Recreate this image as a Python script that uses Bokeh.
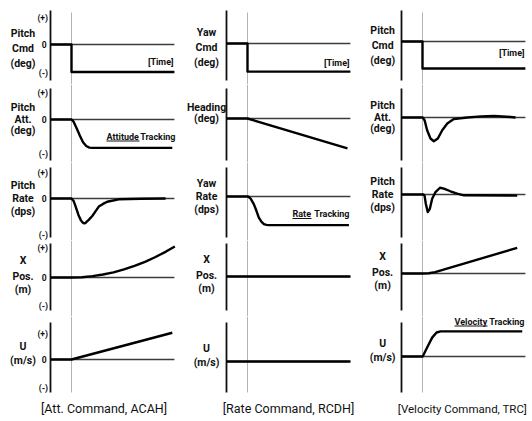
from bokeh.plotting import figure
from bokeh.layouts import gridplot
from bokeh.models import Range1d
from bokeh.core.properties import value
from bokeh.embed import file_html
from bokeh.resources import INLINE

# ---------------- data (time units: command applied at T_EVENT) ----------------
T_EVENT = 1.0
T_END = 5.9

# Attitude command (ACAH)
acah_cmd_t = [0, 1.0, 1.0, 5.9]
acah_cmd_y = [0, 0, -1.02, -1.02]
acah_att_t = [0, 1.0, 1.1, 1.25, 1.4, 1.55, 1.7, 1.85, 2.0, 5.8]
acah_att_y = [0, 0, -0.08, -0.33, -0.6, -0.84, -0.98, -1.04, -1.05, -1.05]
acah_rate_t = [0, 1.0, 1.1, 1.19, 1.33, 1.45, 1.52, 1.59, 1.66, 1.74, 1.82, 1.99, 2.15, 2.3, 2.5, 2.7, 3.25, 4.3, 5.48]
acah_rate_y = [0, 0, -0.09, -0.28, -0.61, -0.81, -0.88, -0.92, -0.91, -0.85, -0.79, -0.65, -0.47, -0.30, -0.2, -0.12, -0.03, -0.01, 0]
acah_x_t = [0, 1.0, 1.5, 2.0, 2.5, 3.0, 3.5, 4.0, 4.5, 5.0, 5.5, 5.92]
acah_x_y = [0, 0, 0.01, 0.05, 0.11, 0.19, 0.30, 0.43, 0.58, 0.76, 0.96, 1.15]
acah_u_t = [0, 1.0, 5.8]
acah_u_y = [0, 0, 0.99]

# Rate command (RCDH)
rcdh_cmd_t = [0, 1.0, 1.0, 5.9]
rcdh_cmd_y = [0, 0, -1.04, -1.04]
rcdh_head_t = [0, 1.0, 5.76]
rcdh_head_y = [0, 0, -1.11]
rcdh_rate_t = [0, 1.03, 1.15, 1.3, 1.42, 1.54, 1.66, 1.78, 1.9, 2.0, 5.83]
rcdh_rate_y = [0, 0, -0.08, -0.28, -0.52, -0.78, -0.93, -1.02, -1.05, -1.06, -1.06]
rcdh_x_t = [0, 5.9]
rcdh_x_y = [0, 0]
rcdh_u_t = [0, 5.9]
rcdh_u_y = [0, 0]

# Velocity command (TRC)
trc_cmd_t = [0, 1.0, 1.0, 5.9]
trc_cmd_y = [0, 0, -1.0, -1.0]
trc_att_t = [0, 1.01, 1.1, 1.22, 1.38, 1.54, 1.73, 1.94, 2.18, 2.49, 3.13, 3.8, 4.4, 5.0, 5.43]
trc_att_y = [0, 0, -0.1, -0.47, -0.78, -0.88, -0.78, -0.47, -0.22, -0.06, 0, 0.04, 0.06, 0.03, 0]
trc_rate_t = [0, 1.05, 1.1, 1.16, 1.25, 1.35, 1.46, 1.62, 1.83, 2.02, 2.33, 2.65, 2.97, 5.51]
trc_rate_y = [0, 0, -0.05, -0.35, -0.65, -0.53, -0.16, 0.09, 0.25, 0.22, 0.12, 0.03, -0.03, -0.04]
trc_x_t = [0, 0.99, 1.3, 1.6, 5.51]
trc_x_y = [0, 0, 0.01, 0.05, 0.95]
trc_u_t = [0, 1.01, 1.22, 1.46, 1.67, 1.86, 5.75]
trc_u_y = [0, 0, 0.33, 0.70, 0.89, 0.93, 0.93]

titles = ["[Att. Command, ACAH]", "[Rate Command, RCDH]", "[Velocity Command, TRC]"]
ylabels = [
    [["Pitch", "Cmd", "(deg)"], ["Yaw", "Cmd", "(deg)"], ["Pitch", "Cmd", "(deg)"]],
    [["Pitch", "Att.", "(deg)"], ["Heading", "(deg)"], ["Pitch", "Att.", "(deg)"]],
    [["Pitch", "Rate", "(dps)"], ["Yaw", "Rate", "(dps)"], ["Pitch", "Rate", "(dps)"]],
    [["X", "Pos.", "(m)"], ["X", "Pos.", "(m)"], ["X", "Pos.", "(m)"]],
    [["U", "(m/s)"], ["U", "(m/s)"], ["U", "(m/s)"]],
]
tick_labels = ["(+)", "0", "(-)"]
time_label = "[Time]"
tracking = {(1, 0): ("Attitude", "Tracking"), (2, 1): ("Rate", "Tracking"), (4, 2): ("Velocity", "Tracking")}

signals = [
    [(acah_cmd_t, acah_cmd_y), (rcdh_cmd_t, rcdh_cmd_y), (trc_cmd_t, trc_cmd_y)],
    [(acah_att_t, acah_att_y), (rcdh_head_t, rcdh_head_y), (trc_att_t, trc_att_y)],
    [(acah_rate_t, acah_rate_y), (rcdh_rate_t, rcdh_rate_y), (trc_rate_t, trc_rate_y)],
    [(acah_x_t, acah_x_y), (rcdh_x_t, rcdh_x_y), (trc_x_t, trc_x_y)],
    [(acah_u_t, acah_u_y), (rcdh_u_t, rcdh_u_y), (trc_u_t, trc_u_y)],
]

# ---------------- layout (pixel placement) ----------------
PX = 21.0   # pixels per time unit
PY = 27.0   # pixels per value unit
COL_W = [183, 173, 176]
AXIS_X = [50, 43, 45]                    # axis position inside each column
ROW_TOP = [0, 84, 162, 240, 316]
ROW_H = [84, 78, 78, 76, 104]
ZERO_PAGE = [[44, 43, 41], [119, 118, 117], [198, 196, 194], [277, 276, 273], [359, 361, 356]]
AXIS_SPAN = [(10, 80), (88, 160), (167, 237), (243, 310), (322, 392)]
PLUS_PAGE = [17, 92, 172, 247, 333]
MINUS_PAGE = [72, 153, 234, 305, 387]
LABEL_X = [-1.31, -0.95, -0.9]
LABEL_OFF = [                             # px above zero of each label line
    {3: [11, -4, -19]},
    {3: [12, 0, -11], 2: [11, 0]},
    {3: [13, 0, -13]},
    {3: [17, 1, -12]},
    {2: [13, -1]},
]
TIME_PAGE = [(173, 61), (349, 62), (524, 52)]
TRACK_PAGE = {(1, 0): (106, 136, 140.5, 175), (2, 1): (292, 213, 218, 349), (4, 2): (454, 321, 325.5, 524)}
UNDERLINE_W = {"Attitude": 33, "Rate": 19, "Velocity": 33}
TITLE_PAGE = [(103.5, 408, "12.5px"), (288, 408, "12.5px"), (462, 408, "11.5px")]
FONT = value("Roboto")
BLACK = "#111111"

rows = []
for r in range(5):
    row = []
    for c in range(3):
        w, h = COL_W[c], ROW_H[r]
        zp = ZERO_PAGE[r][c]
        z = zp - ROW_TOP[r]
        ax_page = sum(COL_W[:c]) + AXIS_X[c]

        def tx(px):
            return (px - ax_page) / PX

        def ty(py):
            return (zp - py) / PY

        p = figure(width=w, height=h,
                   x_range=Range1d(-AXIS_X[c] / PX, (w - AXIS_X[c]) / PX),
                   y_range=Range1d(-(h - z) / PY, z / PY),
                   x_axis_type=None, y_axis_type=None,
                   output_backend="svg", toolbar_location=None, min_border=0)
        p.outline_line_color = None
        p.grid.visible = False
        p.background_fill_color = "white"
        p.border_fill_color = "white"

        # command time marker (continuous through rows)
        top = ty(12) if r == 0 else p.y_range.end
        bot = ty(392) if r == 4 else p.y_range.start
        p.segment(x0=[T_EVENT], y0=[bot], x1=[T_EVENT], y1=[top], line_color="#b4b4b4", line_width=1)
        # zero line and vertical axis
        p.segment(x0=[0], y0=[0], x1=[T_END], y1=[0], line_color="#3c3c3c", line_width=1.3)
        a0, a1 = AXIS_SPAN[r]
        p.segment(x0=[0], y0=[ty(a1)], x1=[0], y1=[ty(a0)], line_color=BLACK, line_width=1.8)
        # signal
        t, y = signals[r][c]
        p.line(t, y, line_color="black", line_width=2.4, line_join="round")

        # y label
        lines = ylabels[r][c]
        ly = [v / PY for v in LABEL_OFF[r][len(lines)]]
        p.text(x=[LABEL_X[c]] * len(lines), y=ly, text=lines, text_font=FONT, text_font_size="10.5px",
               text_font_style="bold", text_align="center", text_baseline="middle", text_color=BLACK)
        if c == 0:
            p.text(x=[-0.12, -0.18, -0.12], y=[ty(PLUS_PAGE[r]), 0, ty(MINUS_PAGE[r])], text=tick_labels,
                   text_font=FONT, text_font_size="8.5px", text_font_style="bold",
                   text_align="right", text_baseline="middle", text_color=BLACK)
        if r == 0:
            tpx, tpy = TIME_PAGE[c]
            p.text(x=[tx(tpx)], y=[ty(tpy)], text=[time_label], text_font=FONT,
                   text_font_size="9px", text_font_style="bold", text_align="right",
                   text_baseline="middle", text_color=BLACK)
        if (r, c) in tracking:
            w1, w2 = tracking[(r, c)]
            x0, yt, yu, x1 = TRACK_PAGE[(r, c)]
            p.text(x=[tx(x0)], y=[ty(yt)], text=[w1], text_font=FONT, text_font_size="9px",
                   text_font_style="bold", text_align="left", text_baseline="middle", text_color=BLACK)
            p.text(x=[tx(x1)], y=[ty(yt)], text=[w2], text_font=FONT, text_font_size="9px",
                   text_font_style="bold", text_align="right", text_baseline="middle", text_color=BLACK)
            p.segment(x0=[tx(x0)], y0=[ty(yu)], x1=[tx(x0 + UNDERLINE_W[w1])], y1=[ty(yu)],
                      line_color=BLACK, line_width=1)
        if r == 4:
            px_, py_, fs = TITLE_PAGE[c]
            p.text(x=[tx(px_)], y=[ty(py_)], text=[titles[c]], text_font=FONT, text_font_size=fs,
                   text_align="center", text_baseline="middle", text_color=BLACK)
        row.append(p)
    rows.append(row)

grid = gridplot(rows, toolbar_location=None)
open("out.html", "w").write(file_html(grid, INLINE))
